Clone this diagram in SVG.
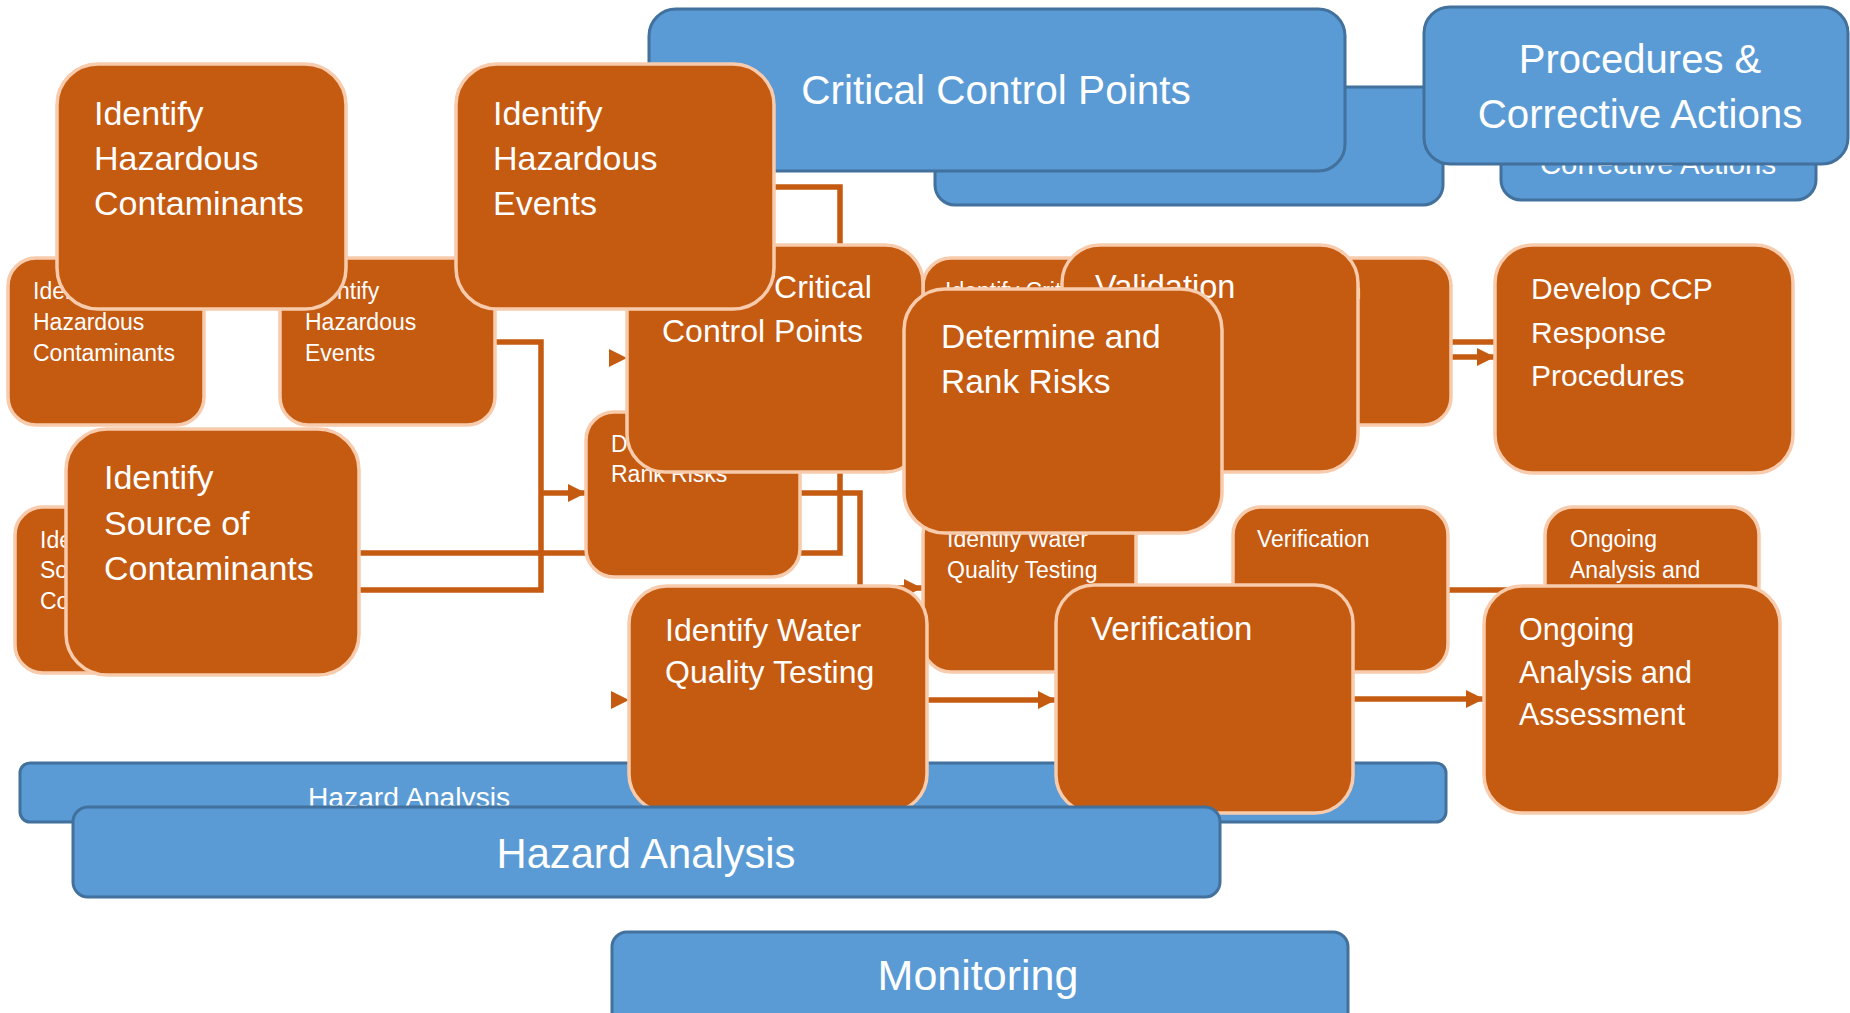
<svg xmlns="http://www.w3.org/2000/svg" width="1850" height="1013" viewBox="0 0 1850 1013">
  <defs>
    <style>
      .blue { fill: #5B9BD5; stroke: #41719C; stroke-width: 3; }
      .node { fill: #C55A11; stroke: #F8CBAD; stroke-width: 3.5; }
      .t { font-family: "Liberation Sans", Arial, sans-serif; fill: #FFFFFF; }
      .mid { text-anchor: middle; }
      .small { font-size: 23px; }
      .link { fill: none; stroke: #C55A11; stroke-width: 5.5; }
    </style>
    <marker id="arrow" markerUnits="userSpaceOnUse" markerWidth="18" markerHeight="18" viewBox="0 0 18 18" refX="18" refY="9" orient="auto">
      <path d="M0,0 L18,9 L0,18 Z" fill="#C55A11"/>
    </marker>
  </defs>
  <rect width="1850" height="1013" fill="#FFFFFF"/>

  <!-- rear banners -->
  <g id="ccp-banner-rear"><rect class="blue" x="935" y="87" width="508" height="118" rx="20"/></g>
  <g id="procedures-banner-rear">
    <rect class="blue" x="1501" y="60" width="315" height="140" rx="20"/>
    <text class="t mid" x="1658" y="174" font-size="29.3">Corrective Actions</text>
  </g>
  <g id="hazard-banner-rear">
    <rect class="blue" x="20" y="763" width="1426" height="59" rx="10"/>
    <text class="t" x="308" y="807" font-size="28.2">Hazard Analysis</text>
  </g>

  <!-- connectors -->
  <g id="connectors">
    <path class="link" d="M774,187 H840 V553 H359"/>
    <path class="link" d="M495,342 H541 V590 H359"/>
    <path class="link" d="M541,493 H586" marker-end="url(#arrow)"/>
    <path class="link" d="M800,493 H860 V588 H922" marker-end="url(#arrow)"/>
    <path class="link" d="M626,358 H627" marker-end="url(#arrow)"/>
    <path class="link" d="M628,700 H629" marker-end="url(#arrow)"/>
    <path class="link" d="M927,700 H1056" marker-end="url(#arrow)"/>
    <path class="link" d="M1353,699 H1484" marker-end="url(#arrow)"/>
    <path class="link" d="M1451,342 H1495"/>
    <path class="link" d="M1451,357 H1495" marker-end="url(#arrow)"/>
    <path class="link" d="M1448,590 H1545"/>
  </g>

  <!-- rear step boxes -->
  <g id="hazardous-contaminants-rear">
    <rect class="node" x="8" y="258" width="196" height="167" rx="28"/>
    <text class="t small" x="33" y="299">Identify</text>
    <text class="t small" x="33" y="330">Hazardous</text>
    <text class="t small" x="33" y="361">Contaminants</text>
  </g>
  <g id="hazardous-events-rear">
    <rect class="node" x="280" y="258" width="215" height="167" rx="28"/>
    <text class="t small" x="305" y="299">Identify</text>
    <text class="t small" x="305" y="330">Hazardous</text>
    <text class="t small" x="305" y="361">Events</text>
  </g>
  <g id="source-rear">
    <rect class="node" x="15" y="507" width="196" height="166" rx="28"/>
    <text class="t small" x="40" y="548">Identify</text>
    <text class="t small" x="40" y="578">Source of</text>
    <text class="t small" x="40" y="609">Contaminants</text>
  </g>
  <g id="rank-risks-rear">
    <rect class="node" x="586" y="412" width="214" height="165" rx="28"/>
    <text class="t small" x="611" y="452">Determine and</text>
    <text class="t small" x="611" y="482">Rank Risks</text>
  </g>
  <g id="critical-points-rear">
    <rect class="node" x="923" y="258" width="215" height="167" rx="28"/>
    <text class="t small" x="945" y="299">Identify Critical</text>
  </g>
  <g id="water-testing-rear">
    <rect class="node" x="923" y="507" width="213" height="165" rx="28"/>
    <text class="t small" x="947" y="547">Identify Water</text>
    <text class="t small" x="947" y="578">Quality Testing</text>
  </g>
  <g id="validation-rear">
    <rect class="node" x="1237" y="258" width="214" height="167" rx="28"/>
    <text class="t small" x="1262" y="299">Validation</text>
  </g>
  <g id="verification-rear">
    <rect class="node" x="1233" y="507" width="215" height="165" rx="28"/>
    <text class="t small" x="1257" y="547">Verification</text>
  </g>
  <g id="ongoing-rear">
    <rect class="node" x="1545" y="507" width="214" height="165" rx="28"/>
    <text class="t small" x="1570" y="547">Ongoing</text>
    <text class="t small" x="1570" y="578">Analysis and</text>
  </g>

  <!-- top banners -->
  <g id="ccp-banner">
    <rect class="blue" x="649" y="9" width="696" height="162" rx="27"/>
    <text class="t mid" x="996" y="104" font-size="40.5">Critical Control Points</text>
  </g>
  <g id="procedures-banner">
    <rect class="blue" x="1424" y="7" width="424" height="157" rx="26"/>
    <text class="t mid" x="1640" y="73" font-size="40">Procedures &amp;</text>
    <text class="t mid" x="1640" y="128" font-size="40.3">Corrective Actions</text>
  </g>

  <!-- front step boxes -->
  <g id="critical-points">
    <rect class="node" x="627" y="245" width="296" height="227" rx="38"/>
    <text class="t" x="662" y="298" font-size="32">Identify Critical</text>
    <text class="t" x="662" y="342" font-size="32">Control Points</text>
  </g>
  <g id="hazardous-contaminants">
    <rect class="node" x="57" y="64" width="289" height="245" rx="41"/>
    <text class="t" x="94" y="125" font-size="34">Identify</text>
    <text class="t" x="94" y="170" font-size="34">Hazardous</text>
    <text class="t" x="94" y="215" font-size="34">Contaminants</text>
  </g>
  <g id="hazardous-events">
    <rect class="node" x="456" y="64" width="318" height="245" rx="41"/>
    <text class="t" x="493" y="125" font-size="34">Identify</text>
    <text class="t" x="493" y="170" font-size="34">Hazardous</text>
    <text class="t" x="493" y="215" font-size="34">Events</text>
  </g>
  <g id="source">
    <rect class="node" x="66" y="429" width="293" height="246" rx="41"/>
    <text class="t" x="104" y="489" font-size="34">Identify</text>
    <text class="t" x="104" y="535" font-size="34">Source of</text>
    <text class="t" x="104" y="580" font-size="34">Contaminants</text>
  </g>
  <g id="validation">
    <rect class="node" x="1062" y="245" width="296" height="227" rx="38"/>
    <text class="t" x="1095" y="298" font-size="32.5">Validation</text>
  </g>
  <g id="rank-risks">
    <rect class="node" x="904" y="289" width="318" height="244" rx="41"/>
    <text class="t" x="941" y="348" font-size="33.5">Determine and</text>
    <text class="t" x="941" y="393" font-size="33.5">Rank Risks</text>
  </g>
  <g id="ccp-procedures">
    <rect class="node" x="1495" y="245" width="298" height="228" rx="38"/>
    <text class="t" x="1531" y="299" font-size="30">Develop CCP</text>
    <text class="t" x="1531" y="343" font-size="30">Response</text>
    <text class="t" x="1531" y="386" font-size="30">Procedures</text>
  </g>
  <g id="water-testing">
    <rect class="node" x="629" y="586" width="298" height="226" rx="38"/>
    <text class="t" x="665" y="641" font-size="32">Identify Water</text>
    <text class="t" x="665" y="683" font-size="32">Quality Testing</text>
  </g>
  <g id="verification">
    <rect class="node" x="1056" y="585" width="297" height="228" rx="38"/>
    <text class="t" x="1091" y="640" font-size="33">Verification</text>
  </g>
  <g id="ongoing">
    <rect class="node" x="1484" y="586" width="296" height="227" rx="38"/>
    <text class="t" x="1519" y="640" font-size="30.5">Ongoing</text>
    <text class="t" x="1519" y="683" font-size="30.5">Analysis and</text>
    <text class="t" x="1519" y="725" font-size="30.5">Assessment</text>
  </g>

  <!-- bottom banners -->
  <g id="hazard-banner">
    <rect class="blue" x="73" y="807" width="1147" height="90" rx="15"/>
    <text class="t mid" x="646" y="868" font-size="41.7">Hazard Analysis</text>
  </g>
  <g id="monitoring-banner">
    <rect class="blue" x="612" y="932" width="736" height="110" rx="15"/>
    <text class="t mid" x="978" y="990" font-size="43">Monitoring</text>
  </g>
</svg>
